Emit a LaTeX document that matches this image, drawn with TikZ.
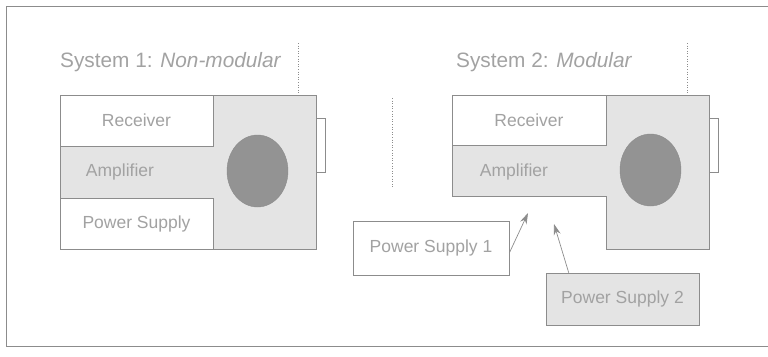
\documentclass[tikz,border=0pt]{standalone}
\usepackage{fontspec}
\setmainfont{Liberation Sans}
\usetikzlibrary{shapes.geometric,arrows.meta}
\definecolor{linegray}{HTML}{8C8C8C}
\definecolor{bodygray}{HTML}{E4E4E4}
\definecolor{spkgray}{HTML}{939393}
\definecolor{textgray}{HTML}{A2A2A2}
\begin{document}
\begin{tikzpicture}[x=1pt,y=-1pt,
  part/.style={draw=linegray,line width=0.6pt,inner sep=0pt,text=textgray,
    font=\fontsize{17.5}{20}\selectfont},
  label/.style={text=textgray,inner sep=0pt,font=\fontsize{17.5}{20}\selectfont},
  title/.style={text=textgray,inner sep=0pt,anchor=west,font=\fontsize{20.8}{24}\selectfont},
  speaker/.style={ellipse,fill=spkgray,draw=linegray,minimum width=61pt,minimum height=72pt},
  feed/.style={draw=linegray,line width=0.7pt,-{Stealth[length=11pt,width=7pt]}}]
\useasboundingbox (0,0) rectangle (768,356);
\draw[linegray,line width=0.6pt] (768,6) -- (6,6) -- (6,346) -- (768,346);
\draw[linegray,dotted,line width=0.6pt] (392,98) -- (392,188);
% system 1
\node[title] (title1) at (60,62) {System 1: \textit{Non-modular}};
\node[part,fill=bodygray,minimum width=256pt,minimum height=154pt] (body1) at (188,172) {};
\node[part,fill=white,minimum width=153pt,minimum height=51pt] (rec1) at (136.5,120.5) {Receiver};
\node[part,fill=white,minimum width=153pt,minimum height=51pt] (pwr1) at (136.5,223.5) {Power Supply};
\node[label] (amp1) at (120,172) {Amplifier};
\node[speaker] (spk1) at (257.5,171) {};
\draw[linegray,line width=0.6pt] (316,118) -- ++(9,0) -- ++(0,54) -- ++(-9,0);
\draw[linegray,dotted,line width=0.6pt] (298,43) -- (298,95);
% system 2
\node[title] (title2) at (456,62) {System 2: \textit{Modular}};
\filldraw[fill=bodygray,draw=linegray,line width=0.6pt] (452,95) -- (709,95) -- (709,249) -- (606,249) -- (606,196) -- (452,196) -- cycle;
\node[part,fill=white,minimum width=154pt,minimum height=50pt] (rec2) at (529,120) {Receiver};
\node[label] (amp2) at (514,172) {Amplifier};
\node[speaker] (spk2) at (650.5,170) {};
\draw[linegray,line width=0.6pt] (709,118) -- ++(9,0) -- ++(0,54) -- ++(-9,0);
\draw[linegray,dotted,line width=0.6pt] (687,43) -- (687,95);
\node[part,fill=white,minimum width=156pt,minimum height=54pt] (ps1) at (431,248) {Power Supply 1};
\node[part,fill=bodygray,minimum width=153pt,minimum height=52pt] (ps2) at (622.5,299) {Power Supply 2};
\coordinate (slot1) at (528,213);
\coordinate (slot2) at (554,224);
\draw[feed] ([yshift=-5pt]ps1.east) -- (slot1);
\draw[feed] ([xshift=23pt]ps2.north west) -- (slot2);
\end{tikzpicture}
\end{document}
